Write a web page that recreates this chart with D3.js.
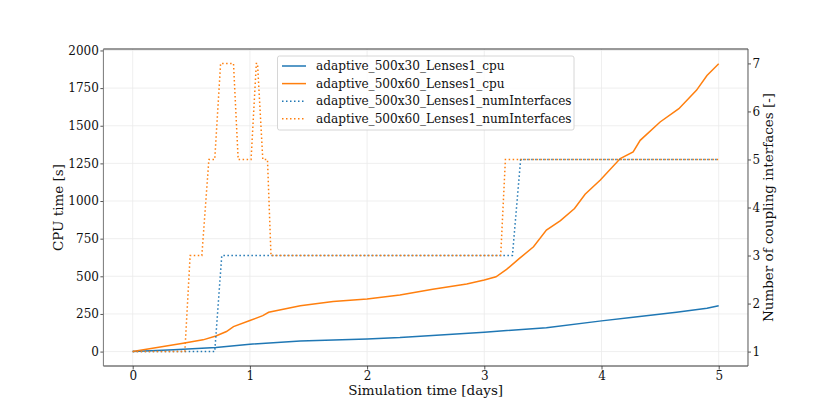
<!DOCTYPE html>
<html>
<head>
<meta charset="utf-8">
<script src="https://cdn.jsdelivr.net/npm/d3@7"></script>
<style>
  body { margin: 0; background: #fff; }
  text { font-family: 'DejaVu Serif', serif; }
</style>
</head>
<body>
<div id="chart"></div>
<script>
// cpu time, 500x30 case
const days30 = [0, 0.35, 0.71, 1.0, 1.43, 2.0, 2.28, 2.42, 3.0, 3.53, 4.0, 4.27, 4.64, 4.9, 5.0]
const cpu30 = [0, 13, 27, 49, 71, 84, 93, 100, 129, 159, 204, 228, 261, 288, 305]

// cpu time, 500x60 case
const days60 = [0, 0.43, 0.6, 0.71, 0.8, 0.86, 1.0, 1.11, 1.16, 1.43, 1.71, 2.0, 2.28, 2.56, 2.85, 3.0,
  3.1, 3.19, 3.3, 3.42, 3.53, 3.65, 3.77, 3.86, 3.99, 4.16, 4.27, 4.33, 4.5, 4.66, 4.81, 4.9, 5.0]
const cpu60 = [0, 56, 78, 104, 133, 166, 206, 239, 261, 305, 332, 349, 376, 414, 449, 475,
  497, 546, 619, 696, 807, 870, 950, 1045, 1140, 1282, 1326, 1403, 1525, 1613, 1735, 1834, 1912]

// number of coupling interfaces
const ifaceDays30 = [0, 0.70, 0.76, 3.24, 3.31, 5.0]
const iface30 = [1, 1, 3, 3, 5, 5]
const ifaceDays60 = [0, 0.445, 0.49, 0.59, 0.65, 0.70, 0.75, 0.86, 0.90, 1.01, 1.055, 1.065, 1.11, 1.15, 1.18, 3.14, 3.18, 5.0]
const iface60 = [1, 1, 3, 3, 5, 5, 7, 7, 5, 5, 7, 7, 5, 5, 3, 3, 5, 5]

const xTicks = [0, 1, 2, 3, 4, 5]
const yTicks = [0, 250, 500, 750, 1000, 1250, 1500, 1750, 2000]
const y2Ticks = [1, 2, 3, 4, 5, 6, 7]

const seriesNames = [
  'adaptive_500x30_Lenses1_cpu',
  'adaptive_500x60_Lenses1_cpu',
  'adaptive_500x30_Lenses1_numInterfaces',
  'adaptive_500x60_Lenses1_numInterfaces'
]

const blue = '#1f77b4'
const orange = '#ff7f0e'

const W = 831
const H = 412
const margin = { top: 49, left: 103.4, right: W - 748, bottom: H - 366 }
const width = W - margin.left - margin.right
const height = H - margin.top - margin.bottom

const svg = d3
  .select('#chart')
  .append('svg')
  .attr('width', W)
  .attr('height', H)

const g = svg.append('g').attr('transform', 'translate(' + margin.left + ',' + margin.top + ')')

const x = d3.scaleLinear().domain([-0.25, 5.25]).range([0, width])
const y = d3.scaleLinear().domain([-95.7, 2009.7]).range([height, 0])
const y2 = d3.scaleLinear().domain([0.7, 7.3]).range([height, 0])

// grid
g.selectAll('.xgrid')
  .data(xTicks)
  .enter()
  .append('line')
  .attr('x1', d => x(d))
  .attr('x2', d => x(d))
  .attr('y1', 0)
  .attr('y2', height)
  .attr('stroke', '#ebebeb')
  .attr('stroke-width', 0.8)

g.selectAll('.ygrid')
  .data(yTicks)
  .enter()
  .append('line')
  .attr('x1', 0)
  .attr('x2', width)
  .attr('y1', d => y(d))
  .attr('y2', d => y(d))
  .attr('stroke', '#ebebeb')
  .attr('stroke-width', 0.8)

const cpuLine = d3
  .line()
  .x(d => x(d[0]))
  .y(d => y(d[1]))

const ifaceLine = d3
  .line()
  .x(d => x(d[0]))
  .y(d => y2(d[1]))

g.append('path')
  .datum(d3.zip(days30, cpu30))
  .attr('d', cpuLine)
  .attr('fill', 'none')
  .attr('stroke', blue)
  .attr('stroke-width', 1.5)

g.append('path')
  .datum(d3.zip(days60, cpu60))
  .attr('d', cpuLine)
  .attr('fill', 'none')
  .attr('stroke', orange)
  .attr('stroke-width', 1.5)

g.append('path')
  .datum(d3.zip(ifaceDays30, iface30))
  .attr('d', ifaceLine)
  .attr('fill', 'none')
  .attr('stroke', blue)
  .attr('stroke-width', 1.5)
  .attr('stroke-dasharray', '1.5,2.5')

g.append('path')
  .datum(d3.zip(ifaceDays60, iface60))
  .attr('d', ifaceLine)
  .attr('fill', 'none')
  .attr('stroke', orange)
  .attr('stroke-width', 1.5)
  .attr('stroke-dasharray', '1.5,2.5')

// axes
const xAxis = g
  .append('g')
  .attr('transform', 'translate(0,' + height + ')')
  .call(d3.axisBottom(x).tickValues(xTicks).tickSize(3.5).tickPadding(1.5).tickFormat(d3.format('d')))

const yAxis = g
  .append('g')
  .call(d3.axisLeft(y).tickValues(yTicks).tickSize(3).tickPadding(1.5).tickFormat(d3.format('d')))

const y2Axis = g
  .append('g')
  .attr('transform', 'translate(' + width + ',0)')
  .call(d3.axisRight(y2).tickValues(y2Ticks).tickSize(3).tickPadding(1.5).tickFormat(d3.format('d')))

;[xAxis, yAxis, y2Axis].forEach(a => {
  a.select('.domain').remove()
  a.selectAll('.tick line').attr('stroke', '#555')
  a.selectAll('.tick text')
    .attr('font-family', 'DejaVu Serif')
    .attr('font-size', 12)
    .attr('fill', '#111')
})

// frame
g.append('line').attr('x1', 0).attr('x2', width).attr('y1', 0).attr('y2', 0).attr('stroke', '#333')
g.append('line').attr('x1', 0).attr('x2', width).attr('y1', height).attr('y2', height).attr('stroke', '#333')
g.append('line').attr('x1', 0).attr('x2', 0).attr('y1', 0).attr('y2', height).attr('stroke', '#777')
g.append('line').attr('x1', width).attr('x2', width).attr('y1', 0).attr('y2', height).attr('stroke', '#555')

// axis labels
g.append('text')
  .attr('x', width / 2)
  .attr('y', height + 28.5)
  .attr('text-anchor', 'middle')
  .attr('font-size', 13.5)
  .attr('fill', '#111')
  .text('Simulation time [days]')

g.append('text')
  .attr('transform', 'translate(' + (58 - margin.left + 5) + ',' + height / 2 + ') rotate(-90)')
  .attr('text-anchor', 'middle')
  .attr('font-size', 13.5)
  .attr('fill', '#111')
  .text('CPU time [s]')

g.append('text')
  .attr('transform', 'translate(' + (768 - margin.left + 5) + ',' + height / 2 + ') rotate(-90)')
  .attr('text-anchor', 'middle')
  .attr('font-size', 13.5)
  .attr('fill', '#111')
  .text('Number of coupling interfaces [-]')

// legend
const legend = svg.append('g').attr('transform', 'translate(277.5,56)')
legend
  .append('rect')
  .attr('width', 296.5)
  .attr('height', 74)
  .attr('rx', 2)
  .attr('fill', 'rgba(255,255,255,0.8)')
  .attr('stroke', '#cccccc')
  .attr('stroke-width', 0.8)

const legendStyles = [
  { color: blue, dash: null },
  { color: orange, dash: null },
  { color: blue, dash: '1.5,2.5' },
  { color: orange, dash: '1.5,2.5' }
]

const rows = legend
  .selectAll('.row')
  .data(seriesNames)
  .enter()
  .append('g')
  .attr('transform', (d, i) => 'translate(0,' + (10 + i * 17.6) + ')')

rows
  .append('line')
  .attr('x1', 4.5)
  .attr('x2', 28.5)
  .attr('stroke', (d, i) => legendStyles[i].color)
  .attr('stroke-width', 1.5)
  .attr('stroke-dasharray', (d, i) => legendStyles[i].dash)

rows
  .append('text')
  .attr('x', 38.5)
  .attr('dy', '0.35em')
  .attr('font-size', 12.1)
  .attr('fill', '#111')
  .text(d => d)
</script>
</body>
</html>
